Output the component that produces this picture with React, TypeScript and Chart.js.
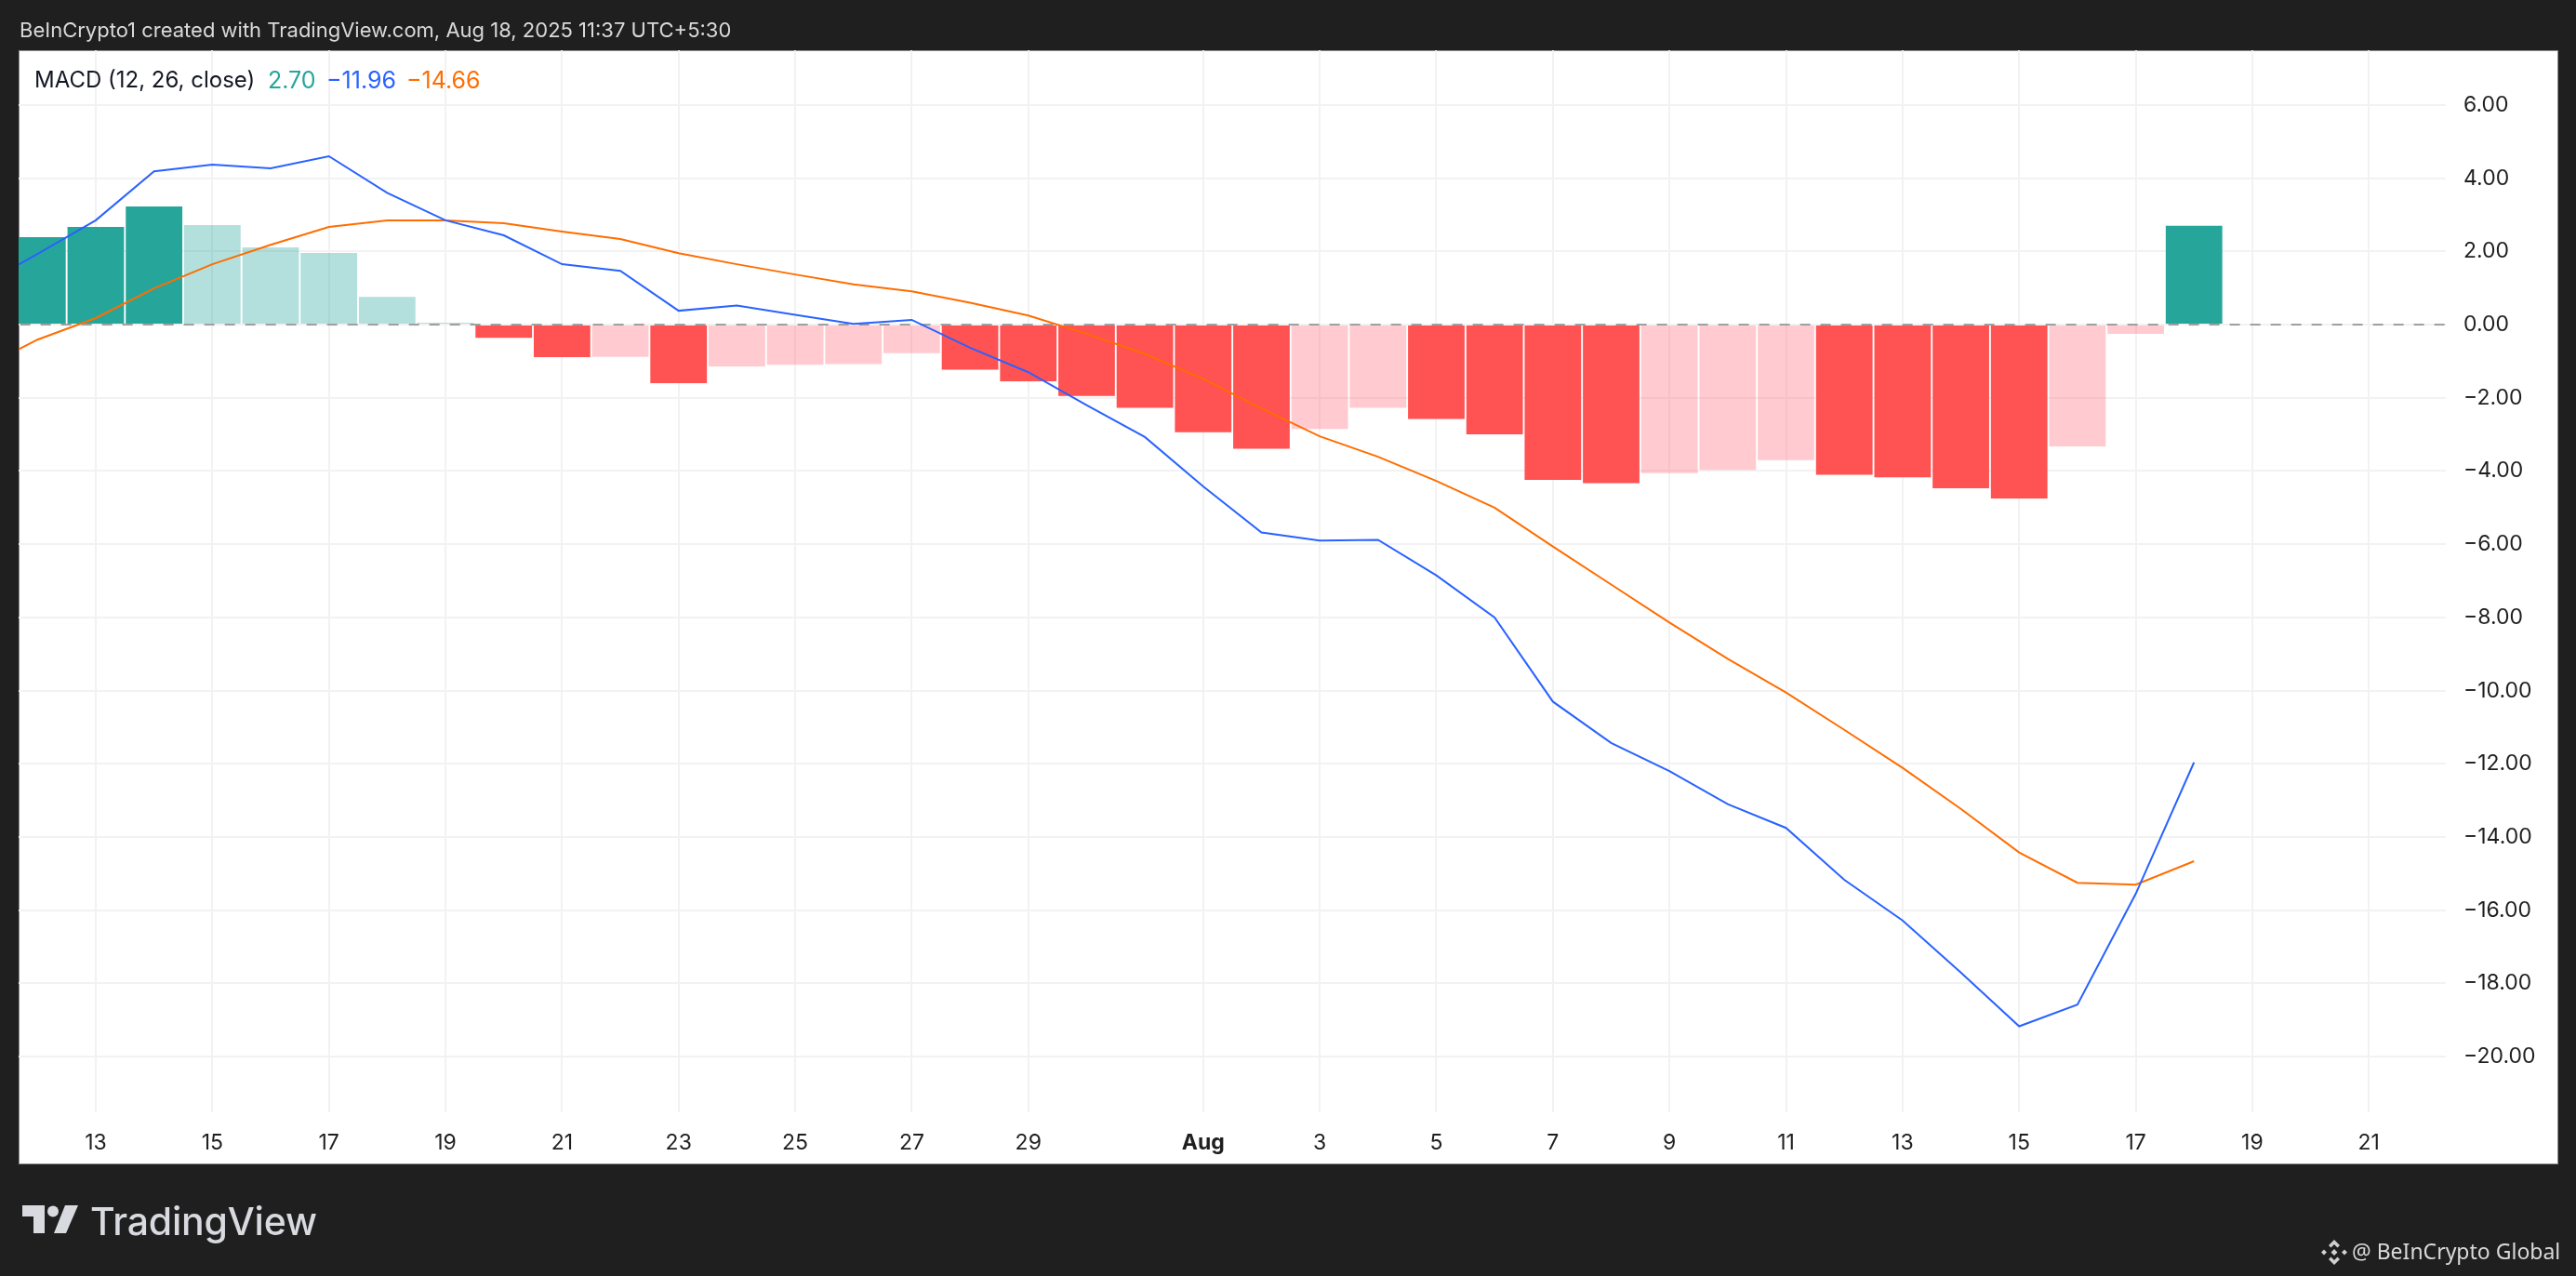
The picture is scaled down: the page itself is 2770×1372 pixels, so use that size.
import { useEffect, useRef } from 'react';
import { Chart, registerables } from 'chart.js';

Chart.register(...registerables);

// day numbers counted from 1 Jul, so 32 = Aug 1
const days = [11, 12, 13, 14, 15, 16, 17, 18, 19, 20, 21, 22, 23, 24, 25, 26, 27, 28, 29, 30, 31, 32, 33, 34, 35, 36, 37, 38, 39, 40, 41, 42, 43, 44, 45, 46, 47, 48, 49];

const histogram = [null, 2.39, 2.67, 3.23, 2.72, 2.11, 1.96, 0.76, 0.05, -0.36, -0.89, -0.88, -1.6, -1.14, -1.1, -1.08, -0.78, -1.23, -1.55, -1.95, -2.27, -2.94, -3.39, -2.85, -2.27, -2.58, -3.0, -4.24, -4.33, -4.06, -3.97, -3.7, -4.1, -4.17, -4.47, -4.75, -3.33, -0.25, 2.7];

const macdLine = [1.04, 1.93, 2.85, 4.19, 4.37, 4.27, 4.6, 3.6, 2.85, 2.44, 1.65, 1.47, 0.38, 0.52, 0.27, 0.02, 0.13, -0.63, -1.3, -2.2, -3.07, -4.42, -5.68, -5.9, -5.88, -6.85, -8.0, -10.3, -11.43, -12.2, -13.1, -13.75, -15.17, -16.28, -17.7, -19.17, -18.58, -15.55, -11.96];

const signalLine = [-1.22, -0.41, 0.18, 0.99, 1.65, 2.18, 2.67, 2.85, 2.85, 2.77, 2.54, 2.34, 1.95, 1.65, 1.37, 1.1, 0.91, 0.6, 0.25, -0.25, -0.8, -1.48, -2.29, -3.05, -3.61, -4.27, -5.0, -6.06, -7.1, -8.14, -9.13, -10.05, -11.07, -12.11, -13.23, -14.42, -15.25, -15.3, -14.66];

const xTickValues = [13, 15, 17, 19, 21, 23, 25, 27, 29, 32, 34, 36, 38, 40, 42, 44, 46, 48, 50, 52];
const xTickLabels = ['13', '15', '17', '19', '21', '23', '25', '27', '29', 'Aug', '3', '5', '7', '9', '11', '13', '15', '17', '19', '21'];
const yTickValues = [6, 4, 2, 0, -2, -4, -6, -8, -10, -12, -14, -16, -18, -20];

const TEAL = '#26a69a';
const TEAL_PALE = 'rgba(38,166,154,0.35)';
const RED = '#ff5252';
const RED_PALE = 'rgba(255,82,100,0.3)';
const FONT = 'Inter, sans-serif';

// TradingView colouring: strong when the bar moves away from zero
const barColors = histogram.map((v, i) => {
    if (v === null) return TEAL;
    const prev = histogram[i - 1];
    if (v >= 0) return prev === null || v > prev ? TEAL : TEAL_PALE;
    return v < prev ? RED : RED_PALE;
});

const App = () => {
    const chartRef = useRef<HTMLCanvasElement>(null);

    useEffect(() => {
        document.body.style.margin = '0';
        let myChart: any = null;

        if (chartRef.current) {
            myChart = new Chart(chartRef.current, {
                type: 'bar',
                data: {
                    datasets: [
                        {
                            type: 'line',
                            label: 'MACD',
                            data: days.map((d, i) => ({ x: d, y: macdLine[i] })),
                            borderColor: '#2962ff',
                            borderWidth: 2,
                            pointRadius: 0,
                            tension: 0,
                            order: 1,
                        },
                        {
                            type: 'line',
                            label: 'Signal',
                            data: days.map((d, i) => ({ x: d, y: signalLine[i] })),
                            borderColor: '#ff6d00',
                            borderWidth: 2,
                            pointRadius: 0,
                            tension: 0,
                            order: 2,
                        },
                        {
                            type: 'bar',
                            label: 'Histogram',
                            data: days.map((d, i) => ({ x: d, y: histogram[i] })),
                            backgroundColor: barColors,
                            barPercentage: 1,
                            categoryPercentage: 0.97,
                            order: 3,
                        },
                        {
                            type: 'line',
                            label: 'Zero',
                            data: [{ x: 11, y: 0 }, { x: 54, y: 0 }],
                            borderColor: '#9e9e9e',
                            borderWidth: 2,
                            borderDash: [11, 11],
                            pointRadius: 0,
                            order: 4,
                        },
                    ],
                },
                options: {
                    animation: false,
                    responsive: false,
                    devicePixelRatio: 1,
                    events: [],
                    layout: { padding: { left: 20, top: 54, right: 20, bottom: 121 } },
                    plugins: { legend: { display: false }, tooltip: { enabled: false } },
                    scales: {
                        x: {
                            type: 'linear',
                            offset: false,
                            min: 11.676,
                            max: 53.32,
                            afterBuildTicks: (scale: any) => {
                                scale.ticks = xTickValues.map((value) => ({ value }));
                            },
                            afterFit: (scale: any) => {
                                scale.height = 55;
                            },
                            grid: { offset: false, color: '#f2f2f2', lineWidth: 2, drawTicks: false },
                            border: { display: false },
                            ticks: {
                                autoSkip: false,
                                maxRotation: 0,
                                minRotation: 0,
                                padding: 19,
                                color: '#1f1f1f',
                                font: (ctx: any) => ({
                                    family: FONT,
                                    size: 23,
                                    weight: ctx.tick && ctx.tick.value === 32 ? 'bold' : 'normal',
                                }),
                                callback: (_v: any, i: number) => xTickLabels[i],
                            },
                        },
                        y: {
                            position: 'right',
                            min: -21.52,
                            max: 7.497,
                            afterBuildTicks: (scale: any) => {
                                scale.ticks = yTickValues.map((value) => ({ value }));
                            },
                            afterFit: (scale: any) => {
                                scale.width = 120;
                            },
                            grid: { color: '#f2f2f2', lineWidth: 2, drawTicks: false },
                            border: { display: false },
                            ticks: {
                                padding: 19,
                                crossAlign: 'near',
                                color: '#1f1f1f',
                                font: { family: FONT, size: 23 },
                                callback: (v: any) => Number(v).toFixed(2).replace('-', '\u2212'),
                            },
                        },
                    },
                },
            } as any);
        }

        return () => {
            if (myChart) {
                myChart.destroy();
            }
        };
    }, []);

    const label = (left: number, color: string, size = 25): React.CSSProperties => ({
        position: 'absolute',
        left,
        top: 70,
        color,
        font: `${size}px ${FONT}`,
        lineHeight: '32px',
        whiteSpace: 'nowrap',
    });

    return (
        <div style={{ position: 'absolute', left: 0, top: 0, width: 2770, height: 1372, background: '#1f1f1f', overflow: 'hidden' }}>
            <div style={{ position: 'absolute', left: 20, top: 54, width: 2731, height: 1198, background: '#fff', border: '1px solid #8b8b8b', boxSizing: 'border-box' }} />
            <canvas ref={chartRef} width={2770} height={1372} style={{ position: 'absolute', left: 0, top: 0 }}></canvas>

            <div style={{ position: 'absolute', left: 21, top: 16, color: '#d9d9d9', font: `22px ${FONT}`, lineHeight: '32px', whiteSpace: 'nowrap' }}>
                BeInCrypto1 created with TradingView.com, Aug 18, 2025 11:37 UTC+5:30
            </div>

            <span style={label(37, '#131722', 24)}>MACD (12, 26, close)</span>
            <span style={label(288, TEAL)}>2.70</span>
            <span style={label(351, '#2962ff')}>{'\u2212'}11.96</span>
            <span style={label(437, '#ff6d00')}>{'\u2212'}14.66</span>

            <svg style={{ position: 'absolute', left: 24, top: 1296 }} width={60} height={30} viewBox="0 0 60 30">
                <path d="M0 0H24V30H12V12H0Z" fill="#d9dae0" />
                <circle cx="33" cy="6.5" r="6" fill="#d9dae0" />
                <path d="M46 0H60L47 30H34Z" fill="#d9dae0" />
            </svg>
            <div style={{ position: 'absolute', left: 97, top: 1288, color: '#d9dae0', font: `500 41px ${FONT}`, lineHeight: '50px', letterSpacing: '-0.2px', whiteSpace: 'nowrap' }}>TradingView</div>

            <svg style={{ position: 'absolute', left: 2496, top: 1333 }} width={28} height={27} viewBox="0 0 28 27">
                <path d="M14 0L20 6L17.5 8.5L14 5L10.5 8.5L8 6Z M14 27L8 21L10.5 18.5L14 22L17.5 18.5L20 21Z" fill="#d0d0d0" />
                <path d="M14 10L17.5 13.5L14 17L10.5 13.5Z M3 10.5L6 13.5L3 16.5L0 13.5Z M25 10.5L28 13.5L25 16.5L22 13.5Z" fill="#d0d0d0" />
            </svg>
            <div style={{ position: 'absolute', left: 2529, top: 1328, color: '#d9d9d9', font: '23px "Noto Sans", sans-serif', lineHeight: '34px', whiteSpace: 'nowrap' }}>@ BeInCrypto Global</div>
        </div>
    );
};

export default App;
